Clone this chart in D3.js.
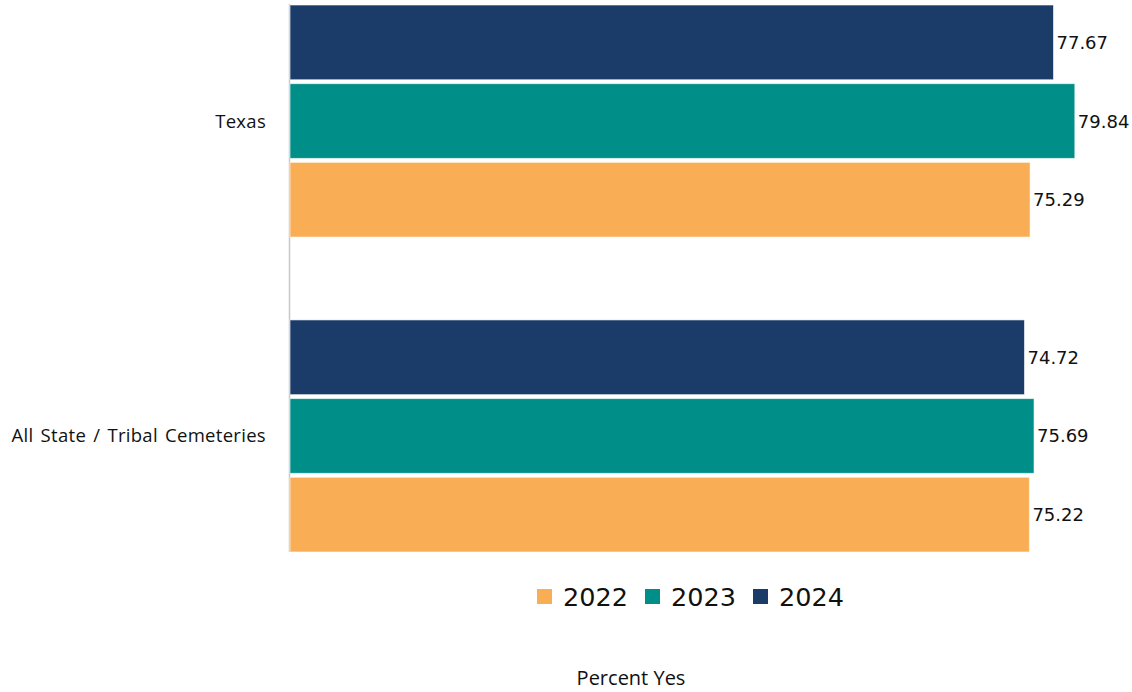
<!DOCTYPE html>
<html>
<head>
<meta charset="utf-8">
<script src="https://cdn.jsdelivr.net/npm/d3@7"></script>
<style>
  body { margin: 0; background: #fff; }
  svg { display: block; }
</style>
</head>
<body>
<div id="chart"></div>
<script>
// Dữ liệu
const categories = ["Texas", "All State / Tribal Cemeteries"];
const years = ["2022", "2023", "2024"];
const values2022 = [75.29, 75.22];
const values2023 = [79.84, 75.69];
const values2024 = [77.67, 74.72];
const axisTitle = "Percent Yes";

const colors = { "2022": "#f9ae55", "2023": "#008e88", "2024": "#1b3b69" };

const data = categories.map((c, i) => ({
    category: c,
    values: [
        { year: "2024", value: values2024[i] },
        { year: "2023", value: values2023[i] },
        { year: "2022", value: values2022[i] }
    ]
}));

const width = 1132, height = 692;
const svg = d3.select("#chart").append("svg")
    .attr("width", width)
    .attr("height", height);

// Thang đo
const xScale = d3.scaleLinear().domain([0, 100]).range([290, 1273]);

const yScale = d3.scaleBand()
    .domain(categories)
    .range([5, 552])
    .paddingInner(0.263)
    .paddingOuter(0);

const ySub = d3.scaleBand()
    .domain(["2024", "2023", "2022"])
    .range([0, yScale.bandwidth()])
    .paddingInner(0.05);

// Trục dọc
svg.append("line")
    .attr("x1", 289.5).attr("x2", 289.5)
    .attr("y1", 4).attr("y2", 552)
    .attr("stroke", "#c8c8c8")
    .attr("stroke-width", 1.5);

// Nhãn nhóm
svg.selectAll(".cat-label")
    .data(categories)
    .enter().append("text")
    .attr("class", "cat-label")
    .attr("x", 266)
    .attr("y", d => yScale(d) + yScale.bandwidth() / 2)
    .attr("dy", "0.35em")
    .attr("text-anchor", "end")
    .style("font-family", "'Open Sans', sans-serif")
    .style("font-size", "18.5px")
    .style("letter-spacing", "0.3px")
    .style("word-spacing", "2px")
    .style("fill", "#111")
    .text(d => d);

// Vẽ cột
const groups = svg.selectAll(".group")
    .data(data)
    .enter().append("g")
    .attr("class", "group")
    .attr("transform", d => `translate(0, ${yScale(d.category)})`);

groups.selectAll("rect")
    .data(d => d.values)
    .enter().append("rect")
    .attr("x", xScale(0))
    .attr("y", d => ySub(d.year))
    .attr("width", d => xScale(d.value) - xScale(0))
    .attr("height", ySub.bandwidth())
    .attr("fill", d => colors[d.year])
    .attr("stroke", "#ffffff")
    .attr("stroke-opacity", 0.6)
    .attr("stroke-width", 1);

groups.selectAll(".val")
    .data(d => d.values)
    .enter().append("text")
    .attr("class", "val")
    .attr("x", d => xScale(d.value) + 3)
    .attr("y", d => ySub(d.year) + ySub.bandwidth() / 2)
    .attr("dy", "0.36em")
    .style("font-family", "'DejaVu Sans', sans-serif")
    .style("font-size", "18px")
    .style("fill", "#111")
    .text(d => d.value.toFixed(2));

// Chú thích
const legendX = [537, 645, 753];
const legend = svg.selectAll(".legend")
    .data(years)
    .enter().append("g")
    .attr("class", "legend")
    .attr("transform", (d, i) => `translate(${legendX[i]}, 589)`);

legend.append("rect")
    .attr("width", 15)
    .attr("height", 15)
    .attr("fill", d => colors[d]);

legend.append("text")
    .attr("x", 26)
    .attr("y", 17)
    .style("font-family", "'DejaVu Sans', sans-serif")
    .style("font-size", "25.5px")
    .style("fill", "#111")
    .text(d => d);

// Tiêu đề trục
svg.append("text")
    .attr("x", 631)
    .attr("y", 685)
    .attr("text-anchor", "middle")
    .style("font-family", "'Open Sans', sans-serif")
    .style("font-size", "20px")
    .style("fill", "#111")
    .text(axisTitle);
</script>
</body>
</html>
